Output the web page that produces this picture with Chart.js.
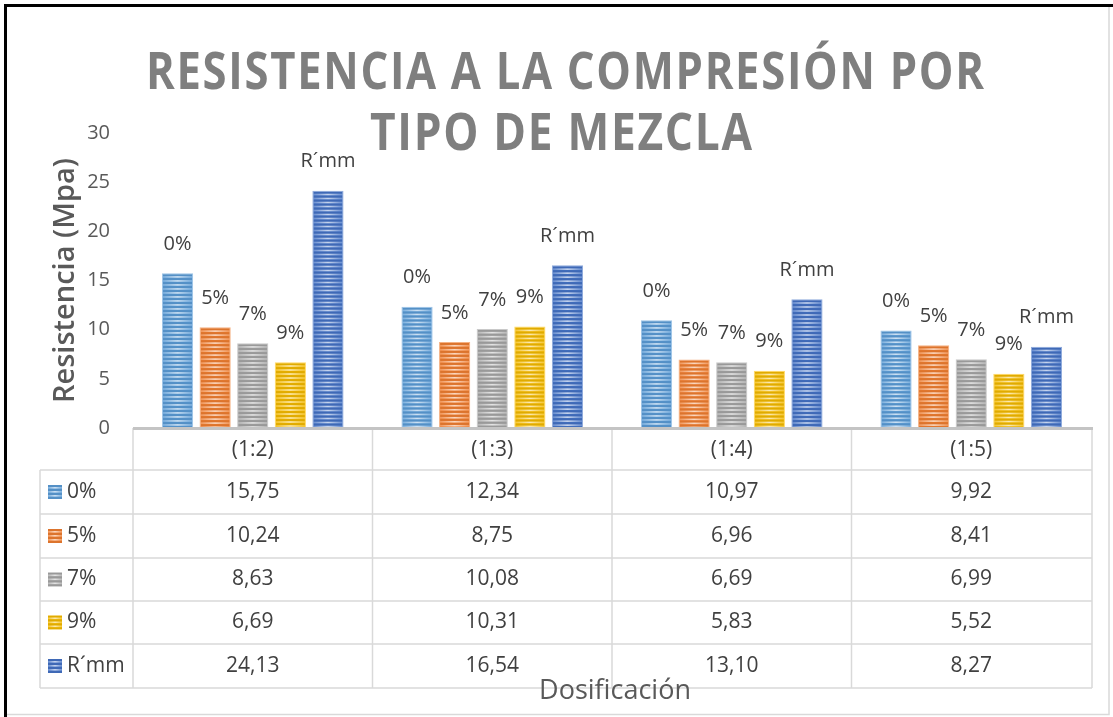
<!DOCTYPE html>
<html>
<head>
<meta charset="utf-8">
<script src="https://cdn.jsdelivr.net/npm/chart.js@4.4.0/dist/chart.umd.min.js"></script>
<style>
html, body { margin: 0; padding: 0; background: #fff; }
#wrap { width: 1113px; height: 717px; }
</style>
</head>
<body>
<div id="wrap"><canvas id="myChart" width="1113" height="717"></canvas></div>
<script>
// datos
var categories = ['(1:2)', '(1:3)', '(1:4)', '(1:5)'];
var seriesNames = ['0%', '5%', '7%', '9%', 'R´mm'];
var serie0 = [15.75, 12.34, 10.97, 9.92];
var serie5 = [10.24, 8.75, 6.96, 8.41];
var serie7 = [8.63, 10.08, 6.69, 6.99];
var serie9 = [6.69, 10.31, 5.83, 5.52];
var serieRmm = [24.13, 16.54, 13.10, 8.27];
var yTicks = [0, 5, 10, 15, 20, 25, 30];

var colors = ['#5b9bd5', '#ed7d31', '#a5a5a5', '#f2b800', '#4472c4'];
var borders = ['#9dc3e6', '#f4b183', '#c9c9c9', '#ffd966', '#8faadc'];
var allSeries = [serie0, serie5, serie7, serie9, serieRmm];
var FONT = '"Open Sans", "DejaVu Sans", sans-serif';
var TXT = '#404040';

var fmt = function (v) {
    return v.toFixed(2).replace('.', ',');
};

// rayas horizontales tipo Excel
var stripes = function (ctx, x0, y0, w, h) {
    ctx.save();
    ctx.beginPath();
    ctx.rect(x0, y0, w, h);
    ctx.clip();
    var g = ctx.createLinearGradient(x0, 0, x0 + w, 0);
    g.addColorStop(0, 'rgba(255,255,255,0.2)');
    g.addColorStop(0.5, 'rgba(255,255,255,0.7)');
    g.addColorStop(1, 'rgba(255,255,255,0.2)');
    for (var y = y0; y < y0 + h; y += 4) {
        ctx.fillStyle = 'rgba(0,0,0,0.07)';
        ctx.fillRect(x0, y, w, 2);
        ctx.fillStyle = g;
        ctx.fillRect(x0, y + 2, w, 1.6);
    }
    ctx.restore();
};

var stripePlugin = {
    id: 'stripes',
    afterDatasetsDraw: function (chart) {
        var ctx = chart.ctx;
        chart.data.datasets.forEach(function (ds, di) {
            chart.getDatasetMeta(di).data.forEach(function (bar) {
                var p = bar.getProps(['x', 'y', 'base', 'width'], true);
                stripes(ctx, p.x - p.width / 2 + 1, p.y + 1, p.width - 2, p.base - p.y - 1);
            });
        });
    }
};

// etiqueta con el nombre de la serie encima de cada barra
var labelPlugin = {
    id: 'barLabels',
    afterDatasetsDraw: function (chart) {
        var ctx = chart.ctx;
        ctx.save();
        ctx.font = '20px ' + FONT;
        ctx.fillStyle = TXT;
        ctx.textAlign = 'center';
        ctx.textBaseline = 'middle';
        chart.data.datasets.forEach(function (ds, di) {
            chart.getDatasetMeta(di).data.forEach(function (bar) {
                var p = bar.getProps(['x', 'y'], true);
                ctx.fillText(ds.label, p.x, p.y - 29);
            });
        });
        ctx.restore();
    }
};

var titlePlugin = {
    id: 'bigTitle',
    afterDraw: function (chart) {
        var ctx = chart.ctx;
        var lines = [
            { text: 'RESISTENCIA A LA COMPRESIÓN POR', left: 146, right: 984, base: 89 },
            { text: 'TIPO DE MEZCLA', left: 370, right: 752, base: 150 }
        ];
        ctx.save();
        ctx.font = 'bold 52px ' + FONT;
        ctx.letterSpacing = '2px';
        ctx.fillStyle = '#7f7f7f';
        ctx.textBaseline = 'alphabetic';
        ctx.textAlign = 'left';
        lines.forEach(function (l) {
            var w = ctx.measureText(l.text).width - 2;
            var sx = (l.right - l.left) / w;
            ctx.save();
            ctx.translate(l.left, l.base);
            ctx.scale(sx, 1);
            ctx.fillText(l.text, 0, 0);
            ctx.restore();
        });
        ctx.restore();
    }
};

// tabla de datos debajo del eje
var tablePlugin = {
    id: 'dataTable',
    afterDraw: function (chart) {
        var ctx = chart.ctx;
        var area = chart.chartArea;
        var xs = chart.scales.x;
        var cw = (area.right - area.left) / categories.length;
        var right = area.right + 1;
        var legLeft = 40;
        var rows = [428, 470, 514, 558, 601, 644, 688];

        ctx.save();
        ctx.strokeStyle = '#d9d9d9';
        ctx.lineWidth = 1.5;
        ctx.beginPath();
        for (var r = 1; r < rows.length; r++) {
            ctx.moveTo(legLeft, rows[r]);
            ctx.lineTo(right, rows[r]);
        }
        ctx.moveTo(legLeft, rows[1]);
        ctx.lineTo(legLeft, rows[6]);
        for (var c = 0; c <= categories.length; c++) {
            var bx = area.left + c * cw;
            if (c === categories.length) bx = right;
            ctx.moveTo(bx, rows[0]);
            ctx.lineTo(bx, rows[6]);
        }
        ctx.stroke();

        // linea del eje
        ctx.strokeStyle = '#c4c4c4';
        ctx.lineWidth = 3;
        ctx.beginPath();
        ctx.moveTo(area.left, rows[0] + 0.5);
        ctx.lineTo(right + 1, rows[0] + 0.5);
        ctx.stroke();

        ctx.font = '21px ' + FONT;
        ctx.fillStyle = TXT;
        ctx.textBaseline = 'middle';
        ctx.textAlign = 'center';
        categories.forEach(function (cat, i) {
            ctx.fillText(cat, xs.getPixelForValue(i), (rows[0] + rows[1]) / 2 + 1);
        });
        allSeries.forEach(function (vals, si) {
            var cy = (rows[si + 1] + rows[si + 2]) / 2;
            ctx.textAlign = 'center';
            ctx.fillStyle = TXT;
            vals.forEach(function (v, i) {
                ctx.fillText(fmt(v), xs.getPixelForValue(i), cy);
            });
            // clave de la leyenda
            ctx.fillStyle = colors[si];
            ctx.fillRect(48, cy - 7, 14, 14);
            stripes(ctx, 48, cy - 7, 14, 14);
            ctx.fillStyle = TXT;
            ctx.textAlign = 'left';
            ctx.fillText(seriesNames[si], 67, cy);
        });

        ctx.font = '500 27px ' + FONT;
        ctx.fillStyle = '#595959';
        ctx.textAlign = 'center';
        ctx.fillText('Dosificación', 615, 691);

        // marco
        ctx.strokeStyle = '#000';
        ctx.lineWidth = 3;
        ctx.beginPath();
        ctx.moveTo(5.5, 717);
        ctx.lineTo(5.5, 5.5);
        ctx.lineTo(1113, 5.5);
        ctx.stroke();
        ctx.strokeStyle = '#d9d9d9';
        ctx.lineWidth = 1.5;
        ctx.beginPath();
        ctx.moveTo(7, 714.5);
        ctx.lineTo(1109, 714.5);
        ctx.lineTo(1109, 7);
        ctx.stroke();
        ctx.restore();
    }
};

var datasets = allSeries.map(function (vals, i) {
    return {
        label: seriesNames[i],
        data: vals,
        backgroundColor: colors[i],
        borderColor: borders[i],
        borderWidth: 1,
        categoryPercentage: 0.785,
        barPercentage: 0.83
    };
});

var ctx = document.getElementById('myChart').getContext('2d');
var myChart = new Chart(ctx, {
    type: 'bar',
    data: { labels: categories, datasets: datasets },
    options: {
        responsive: false,
        animation: false,
        devicePixelRatio: 1,
        layout: { padding: { top: 133, bottom: 289, left: 0, right: 22 } },
        plugins: {
            legend: { display: false },
            title: { display: false },
            tooltip: { enabled: false }
        },
        scales: {
            x: { display: false },
            y: {
                min: yTicks[0],
                max: yTicks[yTicks.length - 1],
                afterBuildTicks: function (scale) {
                    scale.ticks = yTicks.map(function (v) { return { value: v }; });
                },
                afterFit: function (scale) { scale.width = 133; },
                grid: { display: false, drawTicks: false },
                border: { display: false },
                ticks: {
                    padding: 23,
                    color: '#595959',
                    font: { family: FONT, size: 20 }
                },
                title: {
                    display: true,
                    text: 'Resistencia (Mpa)',
                    color: '#595959',
                    padding: { top: 48, bottom: 0 },
                    font: { family: FONT, size: 29, weight: '600', lineHeight: 1.2 }
                }
            }
        }
    },
    plugins: [stripePlugin, labelPlugin, titlePlugin, tablePlugin]
});
</script>
</body>
</html>
